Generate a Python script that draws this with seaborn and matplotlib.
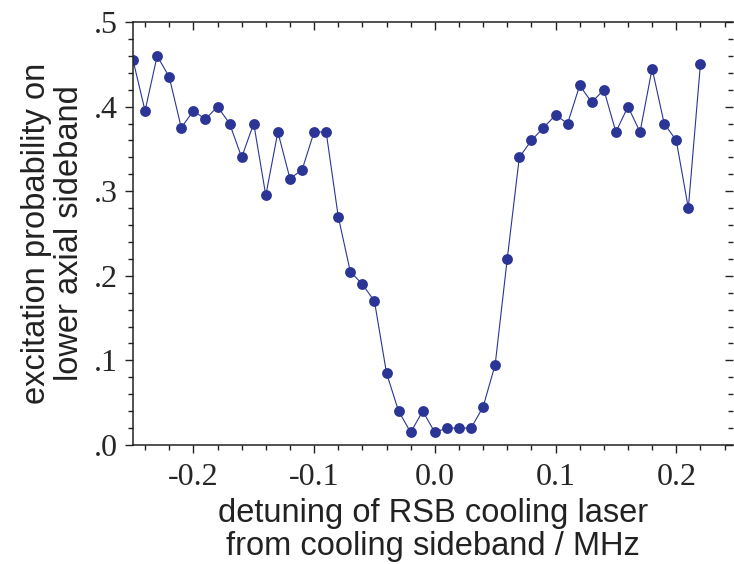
import matplotlib
matplotlib.use("Agg")
import matplotlib.pyplot as plt
from matplotlib.ticker import MultipleLocator
import seaborn as sns
import pandas as pd

# detuning (MHz) and measured excitation probability
detuning = [-0.25, -0.24, -0.23, -0.22, -0.21, -0.20, -0.19, -0.18,
            -0.17, -0.16, -0.15, -0.14, -0.13, -0.12, -0.11, -0.10,
            -0.09, -0.08, -0.07, -0.06, -0.05, -0.04, -0.03, -0.02,
            -0.01, 0.00, 0.01, 0.02, 0.03, 0.04, 0.05, 0.06,
            0.07, 0.08, 0.09, 0.10, 0.11, 0.12, 0.13, 0.14,
            0.15, 0.16, 0.17, 0.18, 0.19, 0.20, 0.21, 0.22]
excitation = [0.455, 0.395, 0.46, 0.435, 0.375, 0.395, 0.385, 0.40,
              0.38, 0.34, 0.38, 0.295, 0.37, 0.315, 0.325, 0.37,
              0.37, 0.27, 0.205, 0.19, 0.17, 0.085, 0.04, 0.015,
              0.04, 0.015, 0.02, 0.02, 0.02, 0.045, 0.095, 0.22,
              0.34, 0.36, 0.375, 0.39, 0.38, 0.425, 0.405, 0.42,
              0.37, 0.40, 0.37, 0.445, 0.38, 0.36, 0.28, 0.45]

xticks = [-0.2, -0.1, 0.0, 0.1, 0.2]
xtick_labels = ["-0.2", "-0.1", "0.0", "0.1", "0.2"]
yticks = [0.0, 0.1, 0.2, 0.3, 0.4, 0.5]
ytick_labels = [".0", ".1", ".2", ".3", ".4", ".5"]

df = pd.DataFrame({"detuning": detuning, "excitation": excitation})

sns.set_style("ticks")
plt.rcParams["font.family"] = ["Liberation Sans", "DejaVu Sans"]

blue = "#2b3595"

fig = plt.figure(figsize=(7.34, 5.64), dpi=100)
ax = fig.add_axes([133 / 734, 1 - 445 / 564, 600 / 734, 423 / 564])

sns.lineplot(data=df, x="detuning", y="excitation", ax=ax, color=blue,
             linewidth=0.8, marker="o", markersize=7.8, markeredgewidth=0)

ax.set_xlim(-0.25, 0.247)
ax.set_ylim(0, 0.5)

ax.set_xticks(xticks)
ax.set_xticklabels(xtick_labels)
ax.set_yticks(yticks)
ax.set_yticklabels(ytick_labels)
ax.xaxis.set_minor_locator(MultipleLocator(0.02))
ax.yaxis.set_minor_locator(MultipleLocator(0.02))

for lab in ax.get_xticklabels() + ax.get_yticklabels():
    lab.set_family(["Liberation Serif", "DejaVu Serif"])
    lab.set_fontsize(23)

ax.tick_params(which="major", direction="out", length=6, width=1, color="#222222")
ax.tick_params(which="minor", direction="out", length=3.5, width=1, color="#222222")
ax.tick_params(axis="x", which="major", pad=7)
ax.tick_params(axis="y", which="major", pad=5)

for side in ["left", "bottom", "top"]:
    ax.spines[side].set_linewidth(1.1)
    ax.spines[side].set_color("#222222")
ax.spines["right"].set_visible(False)
ax.spines["top"].set_visible(True)

# mirrored ticks on top and right, pointing inward
top = ax.secondary_xaxis("top")
top.set_xticks(xticks)
top.xaxis.set_minor_locator(MultipleLocator(0.02))
top.tick_params(which="both", direction="in", labeltop=False, color="#222222", width=1)
top.tick_params(which="major", length=6)
top.tick_params(which="minor", length=3.5)
top.spines["top"].set_visible(False)

right = ax.secondary_yaxis("right")
right.set_yticks(yticks)
right.yaxis.set_minor_locator(MultipleLocator(0.02))
right.tick_params(which="both", direction="in", labelright=False, color="#222222", width=1)
right.tick_params(which="major", length=6)
right.tick_params(which="minor", length=3.5)
right.spines["right"].set_visible(False)

ax.set_xlabel("detuning of RSB cooling laser\nfrom cooling sideband / MHz",
              fontsize=23.5, color="#222222", linespacing=1.12, labelpad=4)
ax.set_ylabel("excitation probability on\nlower axial sideband",
              fontsize=23.5, color="#222222", linespacing=1.12, labelpad=6)

fig.savefig("out.png", dpi=100)
